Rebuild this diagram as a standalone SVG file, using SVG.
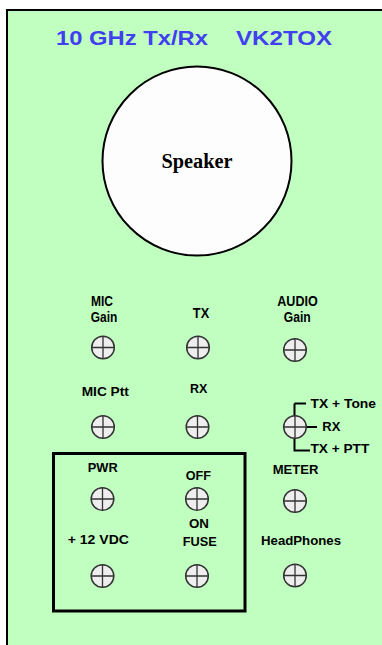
<svg xmlns="http://www.w3.org/2000/svg" xmlns:xlink="http://www.w3.org/1999/xlink" width="382" height="645" viewBox="0 0 382 645">
<style>
.lbl{font-family:"Liberation Sans",Arial,sans-serif;font-weight:bold;font-size:13px;fill:#000;text-anchor:middle}
.top{font-size:14px}
.st{text-anchor:start}
.title{font-family:"Liberation Sans",Arial,sans-serif;font-weight:bold;font-size:20px;fill:#4040F0}
.knob circle{fill:#EEEEEE;stroke:#333;stroke-width:1.5}
.knob path{stroke:#333;stroke-width:1.3;fill:none}
.wire{stroke:#000;stroke-width:2;fill:none}
</style>
<defs>
<g id="knob" class="knob"><circle r="11.3"/><path d="M-11.3 0H11.3M0 -11.3V11.3"/></g>
</defs>
<rect width="382" height="645" fill="#FFFFFF"/>
<rect id="panel" x="7" y="10" width="400" height="700" fill="#C0FFC0" stroke="#000" stroke-width="2"/>
<g id="title">
<text class="title" x="56" y="44.5" textLength="152" lengthAdjust="spacingAndGlyphs">10 GHz Tx/Rx</text>
<text class="title" x="236" y="44.5" textLength="96" lengthAdjust="spacingAndGlyphs">VK2TOX</text>
</g>
<g id="speaker">
<circle cx="197" cy="161" r="94.5" fill="#FDFDFD" stroke="#000" stroke-width="2"/>
<text x="197" y="168" font-family="'Liberation Serif','Times New Roman',serif" font-weight="bold" font-size="20" text-anchor="middle" textLength="71" lengthAdjust="spacingAndGlyphs">Speaker</text>
</g>
<g id="power-box">
<rect x="53.5" y="453.5" width="191.5" height="157.5" fill="none" stroke="#000" stroke-width="3"/>
</g>
<g id="connectors">
<path class="wire" d="M294.5 403.5H306M294.5 403.5V450.5H310M295 427H317"/>
</g>
<g id="mic-gain">
<text class="lbl top" x="102" y="306" textLength="22" lengthAdjust="spacingAndGlyphs">MIC</text>
<text class="lbl top" x="104" y="322.3" textLength="26.6" lengthAdjust="spacingAndGlyphs">Gain</text>
<use xlink:href="#knob" x="103" y="347.5"/>
</g>
<g id="tx">
<text class="lbl top" x="201" y="317.7" textLength="16.3" lengthAdjust="spacingAndGlyphs">TX</text>
<use xlink:href="#knob" x="198" y="347.5"/>
</g>
<g id="audio-gain">
<text class="lbl top" x="297.5" y="306" textLength="40.4" lengthAdjust="spacingAndGlyphs">AUDIO</text>
<text class="lbl top" x="297.2" y="322.3" textLength="27" lengthAdjust="spacingAndGlyphs">Gain</text>
<use xlink:href="#knob" x="295" y="350"/>
</g>
<g id="mic-ptt">
<text class="lbl" x="105.3" y="395.7" textLength="47.3" lengthAdjust="spacingAndGlyphs">MIC Ptt</text>
<use xlink:href="#knob" x="103" y="427"/>
</g>
<g id="rx">
<text class="lbl" x="198.7" y="393.3" textLength="17.3" lengthAdjust="spacingAndGlyphs">RX</text>
<use xlink:href="#knob" x="197.5" y="427"/>
</g>
<g id="mode-switch">
<use xlink:href="#knob" x="295" y="427"/>
<text class="lbl st" x="310.5" y="407.5" textLength="65.5" lengthAdjust="spacingAndGlyphs">TX + Tone</text>
<text class="lbl st" x="322.3" y="431" textLength="18" lengthAdjust="spacingAndGlyphs">RX</text>
<text class="lbl st" x="310.5" y="453" textLength="58.8" lengthAdjust="spacingAndGlyphs">TX + PTT</text>
</g>
<g id="pwr">
<text class="lbl" x="102.7" y="471.7" textLength="30" lengthAdjust="spacingAndGlyphs">PWR</text>
<use xlink:href="#knob" x="102.5" y="499"/>
</g>
<g id="off-on">
<text class="lbl" x="198.3" y="480" textLength="25.3" lengthAdjust="spacingAndGlyphs">OFF</text>
<use xlink:href="#knob" x="197" y="499"/>
<text class="lbl" x="199" y="528.3" textLength="20" lengthAdjust="spacingAndGlyphs">ON</text>
</g>
<g id="meter">
<text class="lbl" x="295.5" y="474.3" textLength="45.7" lengthAdjust="spacingAndGlyphs">METER</text>
<use xlink:href="#knob" x="295" y="501"/>
</g>
<g id="dc-12v">
<text class="lbl" x="98.3" y="544.3" textLength="61.3" lengthAdjust="spacingAndGlyphs">+ 12 VDC</text>
<use xlink:href="#knob" x="102.5" y="576"/>
</g>
<g id="fuse">
<text class="lbl" x="199.7" y="546" textLength="34" lengthAdjust="spacingAndGlyphs">FUSE</text>
<use xlink:href="#knob" x="197" y="576"/>
</g>
<g id="headphones">
<text class="lbl" x="301" y="545" textLength="80" lengthAdjust="spacingAndGlyphs">HeadPhones</text>
<use xlink:href="#knob" x="295" y="575.5"/>
</g>
</svg>
